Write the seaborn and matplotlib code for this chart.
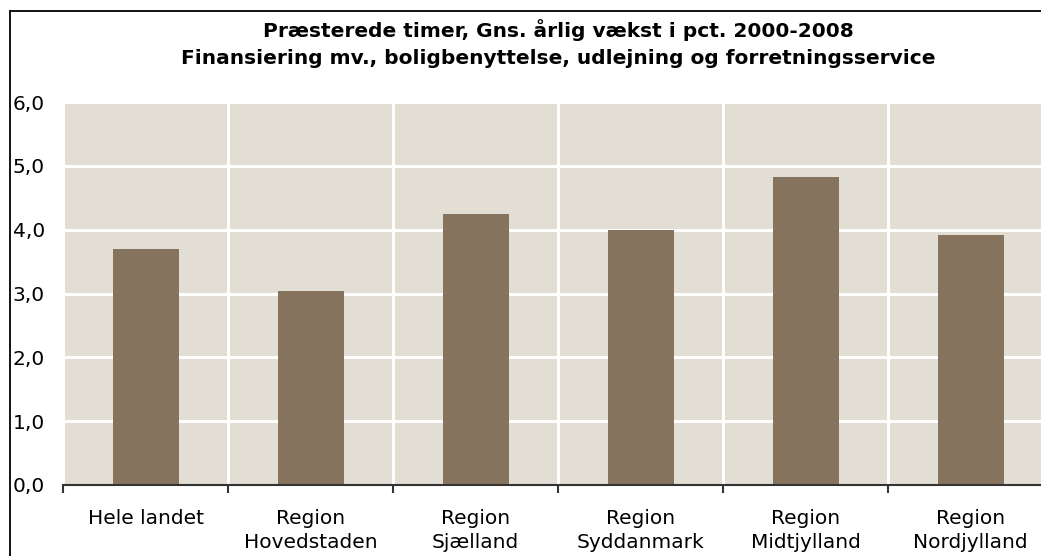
import matplotlib
matplotlib.use('Agg')
import matplotlib.pyplot as plt
import matplotlib.ticker as ticker
from matplotlib.lines import Line2D
import seaborn as sns
import pandas as pd

# data
regioner = ['Hele landet', 'Region\nHovedstaden', 'Region\nSjælland',
            'Region\nSyddanmark', 'Region\nMidtjylland', 'Region\nNordjylland']
vaekst = [3.70, 3.04, 4.25, 4.00, 4.83, 3.92]
y_ticks = [0, 1, 2, 3, 4, 5, 6]

titel = ('Præsterede timer, Gns. årlig vækst i pct. 2000-2008\n'
         'Finansiering mv., boligbenyttelse, udlejning og forretningsservice')

bar_farve = '#85735e'
baggrund = '#e2ded4'

df = pd.DataFrame({'Region': regioner, 'Vaekst': vaekst})

sns.set_style('white')
plt.rcParams['font.family'] = ['DejaVu Sans']
plt.rcParams['text.color'] = 'black'
plt.rcParams['xtick.color'] = 'black'
plt.rcParams['ytick.color'] = 'black'

fig = plt.figure(figsize=(10.41, 5.56), dpi=100)
W, H = 1041, 556
ax = fig.add_axes([63 / W, (H - 485) / H, (1053 - 63) / W, (485 - 102) / H])
ax.set_facecolor(baggrund)

sns.barplot(data=df, x='Region', y='Vaekst', color=bar_farve, width=0.4,
            saturation=1, linewidth=0, ax=ax, zorder=3)

ax.set_xlim(-0.5, len(regioner) - 0.5)
ax.set_ylim(0, 6)
ax.set_yticks(y_ticks)
ax.yaxis.set_major_formatter(ticker.FuncFormatter(lambda v, _: f'{v:.1f}'.replace('.', ',')))

# kategorigrænser som minor ticks (streger + lodrette gitterlinjer)
ax.xaxis.set_minor_locator(ticker.FixedLocator([i - 0.5 for i in range(len(regioner) + 1)]))
ax.tick_params(axis='x', which='major', length=0, pad=17, labelsize=14.5, labelcolor='black')
ax.tick_params(axis='x', which='minor', bottom=True, length=6, width=1.5,
               color='#333333', direction='out')
ax.tick_params(axis='y', length=0, pad=13, labelsize=14.5, labelcolor='black')
for lab in ax.get_xticklabels():
    lab.set_linespacing(1.35)

ax.set_axisbelow(True)
ax.grid(axis='y', which='major', color='white', linewidth=2.2)
ax.grid(axis='x', which='minor', color='white', linewidth=2.2)
ax.grid(axis='x', which='major', visible=False)

for s in ['left', 'right', 'top']:
    ax.spines[s].set_visible(False)
ax.spines['bottom'].set_color('#333333')
ax.spines['bottom'].set_linewidth(1.5)
ax.spines['bottom'].set_zorder(4)

ax.set_xlabel('')
ax.set_ylabel('')

fig.text(558 / W, 1 - 43.5 / H, titel, ha='center', va='center', fontsize=14.5,
         fontweight='bold', linespacing=1.5, color='black')

# ramme om figuren (kun venstre og top synlige)
fig.add_artist(Line2D([9.5 / W, 9.5 / W], [0, 1 - 10.5 / H], transform=fig.transFigure,
                      color='black', linewidth=1.3))
fig.add_artist(Line2D([9.5 / W, 1], [1 - 10.5 / H, 1 - 10.5 / H], transform=fig.transFigure,
                      color='black', linewidth=1.3))

fig.savefig('out.png', dpi=100)
